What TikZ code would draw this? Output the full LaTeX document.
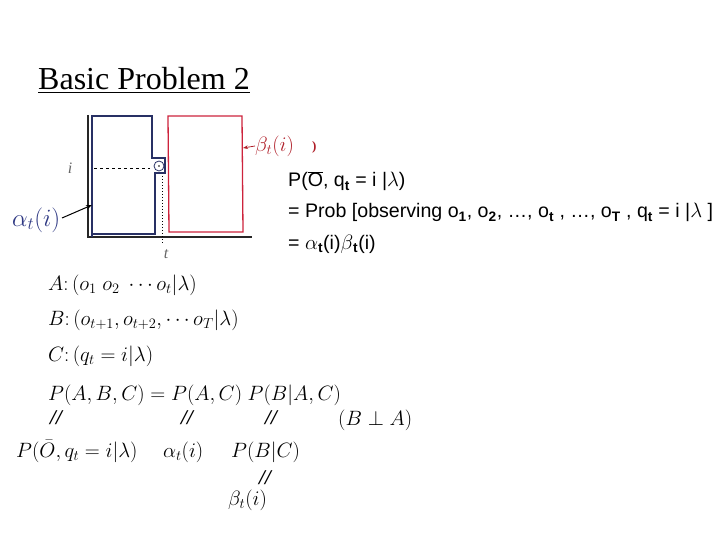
\documentclass[tikz,border=0pt]{standalone}
\usepackage{fontspec}
\setmainfont{Liberation Serif}
\newfontfamily\arialf{Liberation Sans}
\usetikzlibrary{arrows.meta}
\definecolor{navy}{RGB}{40,48,100}
\definecolor{boxred}{RGB}{205,35,60}
\definecolor{labred}{RGB}{175,30,40}
\definecolor{labblue}{RGB}{45,55,130}
\tikzset{
  mathtxt/.style={anchor=base west, inner sep=0pt, font=\fontsize{22.5}{22.5}\selectfont},
  sanstxt/.style={anchor=base west, inner sep=0pt, font=\arialf\fontsize{19.6}{19.6}\selectfont},
  eqmark/.style={anchor=base, inner sep=0pt, font=\fontsize{21}{21}\selectfont\bfseries\itshape},
}
\begin{document}
\begin{tikzpicture}[x=1pt,y=-1pt]
\useasboundingbox (0,0) rectangle (720,540);
% title
\node[anchor=base west, inner sep=0pt, font=\fontsize{32}{32}\selectfont] (title) at (38,90) {\underline{Basic Problem 2}};
% diagram
\draw[line width=1.4pt, black!85] (88,115) -- (88,237) -- (252,237);
\draw[navy, line width=1.3pt] (92,237) -- (92,116) -- (152,116) -- (152,158) -- (165,158) -- (165,173) -- (155,173) -- (155,234) -- (92,234);
\node[draw, navy, circle, minimum size=10pt, inner sep=0pt, line width=0.8pt] (st) at (159,166) {};
\fill (159,166) circle (0.9pt);
\draw[dashed, line width=0.7pt] (94,168) -- (150,168);
\draw[dotted, line width=1pt] (162,176) -- (162,244);
\draw[boxred, line width=1.3pt] (168,116) -- (242,116) -- (243,232) -- (169,232) -- cycle;
\node[text=gray!80!black, font=\fontsize{16}{16}\selectfont\itshape, inner sep=0pt] (ilab) at (70,168) {i};
\node[text=gray!80!black, font=\fontsize{16}{16}\selectfont\itshape, inner sep=0pt] (tlab) at (166,254) {t};
\node[text=labred, anchor=west, inner sep=0pt, font=\fontsize{21}{21}\selectfont] (beta) at (255,146) {$\beta_t(i)$};
\node[text=labred, anchor=west, inner sep=0pt, font=\fontsize{13}{13}\selectfont\bfseries] (bm) at (312,147) {)};
\coordinate (bt) at (243,148);
\draw[labred, -{Stealth[length=5pt]}, line width=0.8pt] (beta.west) -- (bt);
\node[text=labblue, anchor=west, inner sep=0pt, font=\fontsize{23}{23}\selectfont] (alpha) at (12,220) {$\alpha_t(i)$};
\coordinate (at) at (92,205);
\draw[black, -{Stealth[length=6pt]}, line width=1pt] (62,218) -- (at);
% right text
\node[sanstxt] (r1) at (288,187) {P($\overline{\mbox{O}}$, q\textsubscript{\textbf{t}} = i |$\lambda$)};
\node[sanstxt] (r2) at (288,218) {= Prob [observing o\textsubscript{\textbf{1}}, o\textsubscript{\textbf{2}}, \ldots, o\textsubscript{\textbf{t}} , \ldots, o\textsubscript{\textbf{T}} , q\textsubscript{\textbf{t}} = i |$\lambda$ ]};
\node[sanstxt] (r3) at (288,249) {= $\alpha$\textsubscript{\textbf{t}}(i)$\beta$\textsubscript{\textbf{t}}(i)};
% math lines
\node[mathtxt] (A) at (48,290) {$A\colon (o_1\ o_2\ \cdots o_t|\lambda)$};
\node[mathtxt] (B) at (48,325) {$B\colon (o_{t+1}, o_{t+2}, \cdots o_T|\lambda)$};
\node[mathtxt] (C) at (48,361) {$C\colon (q_t = i|\lambda)$};
\node[mathtxt] (P) at (48,400) {$P(A,B,C) = P(A,C)\ P(B|A,C)$};
\node[eqmark] (e1) at (56,424) {//};
\node[eqmark] (e2) at (187,424) {//};
\node[eqmark] (e3) at (271,424) {//};
\node[eqmark] (e4) at (265,484) {//};
\node[mathtxt] (ind) at (338,425) {$(B\perp A)$};
\node[mathtxt] (q1) at (16,457) {$P(\bar O, q_t = i|\lambda)$};
\node[mathtxt] (q2) at (163,457) {$\alpha_t(i)$};
\node[mathtxt] (q3) at (231,457) {$P(B|C)$};
\node[mathtxt] (q4) at (228,505) {$\beta_t(i)$};
\end{tikzpicture}
\end{document}
